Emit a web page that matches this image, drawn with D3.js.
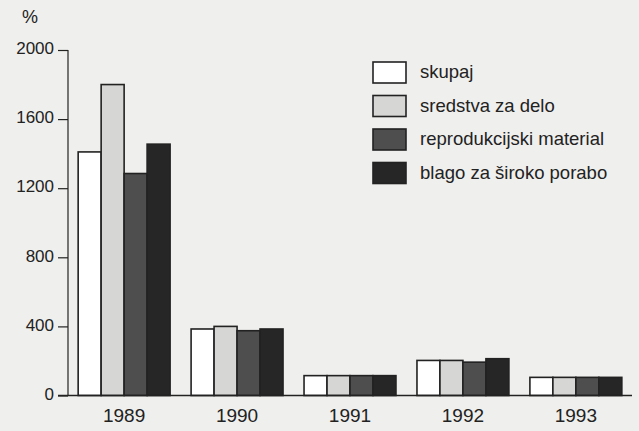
<!DOCTYPE html>
<html><head><meta charset="utf-8">
<script src="https://cdn.jsdelivr.net/npm/d3@7"></script>
<style>
html,body{margin:0;padding:0;background:#efefed;}
svg{display:block;font-family:"Liberation Sans",Arial,sans-serif;}
</style></head><body>
<svg id="c" width="639" height="431"></svg>
<script>
const years = ["1989","1990","1991","1992","1993"];
const seriesNames = ["skupaj","sredstva za delo","reprodukcijski material","blago za široko porabo"];
const skupaj = [1410, 385, 115, 203, 105];
const sredstva = [1800, 400, 115, 203, 105];
const reprodukcijski = [1285, 375, 115, 193, 105];
const blago = [1455, 385, 115, 213, 105];
const yTicks = [0, 400, 800, 1200, 1600, 2000];
const colors = ["#ffffff", "#d6d6d4", "#4e4e4e", "#262626"];

const values = [skupaj, sredstva, reprodukcijski, blago];
const svg = d3.select("#c");
const ink = "#222";
const font = "Liberation Sans, Arial, sans-serif";

const y = d3.scaleLinear().domain([0, 2000]).range([395.5, 50]);
const x0 = d3.scaleBand().domain(years).range([68, 632]).paddingInner(0.186).paddingOuter(0.09);
const x1 = d3.scaleBand().domain(d3.range(4)).range([0, x0.bandwidth()]).padding(0);

// bars
const g = svg.append("g");
years.forEach((yr, i) => {
  values.forEach((arr, s) => {
    g.append("rect")
      .attr("x", x0(yr) + x1(s))
      .attr("y", y(arr[i]))
      .attr("width", x1.bandwidth())
      .attr("height", y(0) - y(arr[i]))
      .attr("fill", colors[s])
      .attr("stroke", ink)
      .attr("stroke-width", 1.6);
  });
});

// y axis
const yAxis = d3.axisLeft(y).tickValues(yTicks).tickSize(10).tickPadding(4).tickFormat(d3.format("d"));
const ya = svg.append("g").attr("transform", "translate(68,0)").call(yAxis);
ya.select(".domain").attr("stroke", ink).attr("stroke-width", 1.2).attr("d", "M0," + y(0) + "V" + y(2000));
ya.selectAll(".tick line").attr("stroke", ink).attr("stroke-width", 1.2);
ya.selectAll(".tick text").attr("fill", ink).attr("font-size", 17).attr("font-family", font).attr("dy", "0.22em");

// x axis
const xAxis = d3.axisBottom(x0).tickSize(0).tickPadding(13);
const xa = svg.append("g").attr("transform", "translate(0," + y(0) + ")").call(xAxis);
xa.select(".domain").attr("stroke", ink).attr("stroke-width", 1.4).attr("d", "M58,0H632");
xa.selectAll(".tick text").attr("fill", ink).attr("font-size", 19).attr("font-family", font);

// % label
svg.append("text").attr("x", 22).attr("y", 23).attr("font-size", 18).attr("font-family", font).attr("fill", ink).text("%");

// legend
const lg = svg.append("g").attr("transform", "translate(373,62)");
seriesNames.forEach((n, s) => {
  const row = lg.append("g").attr("transform", "translate(0," + (s * 33.5) + ")");
  row.append("rect").attr("width", 33).attr("height", 21).attr("fill", colors[s]).attr("stroke", ink).attr("stroke-width", 1.6);
  row.append("text").attr("x", 47).attr("y", 16).attr("font-size", 18.5).attr("font-family", font).attr("fill", ink).text(n);
});
</script>
</body></html>
